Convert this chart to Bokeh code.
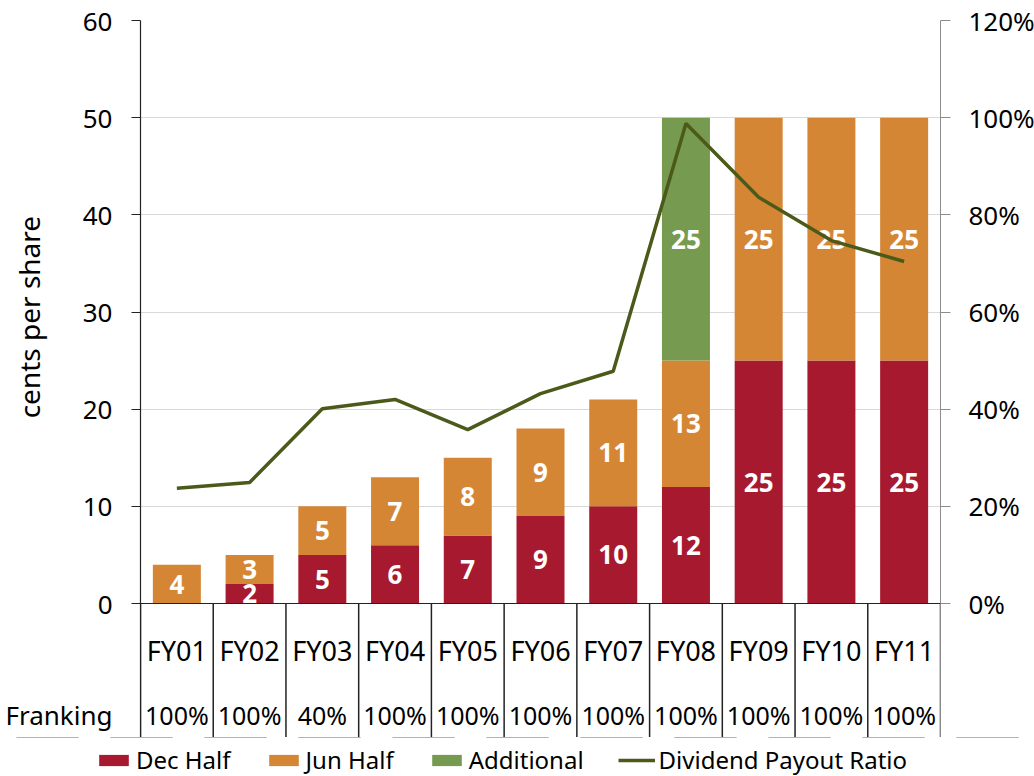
from bokeh.plotting import figure
from bokeh.layouts import column
from bokeh.models import (Range1d, LinearAxis, FixedTicker, PrintfTickFormatter,
                          ColumnDataSource, Legend, LegendItem, Span)
from bokeh.core.properties import value
from bokeh.embed import file_html
from bokeh.resources import INLINE

categories = ["FY01", "FY02", "FY03", "FY04", "FY05", "FY06", "FY07", "FY08", "FY09", "FY10", "FY11"]
franking = ["100%", "100%", "40%", "100%", "100%", "100%", "100%", "100%", "100%", "100%", "100%"]
dec_half = [0, 2, 5, 6, 7, 9, 10, 12, 25, 25, 25]
jun_half = [4, 3, 5, 7, 8, 9, 11, 13, 25, 25, 25]
additional = [0, 0, 0, 0, 0, 0, 0, 25, 0, 0, 0]
payout_ratio = [23.7, 24.9, 40.1, 42.0, 35.8, 43.2, 47.8, 98.8, 83.6, 74.7, 70.4]
cents_ticks = [0, 10, 20, 30, 40, 50, 60]
pct_ticks = [0, 20, 40, 60, 80, 100, 120]
series_names = ["Dec Half", "Jun Half", "Additional", "Dividend Payout Ratio"]

FONT = "Noto Sans"
C_DEC = "#A6192E"
C_JUN = "#D58635"
C_ADD = "#769B50"
C_LINE = "#4B5A1A"

# layout constants (in cents units below the zero line, for the table rows)
TABLE_BOTTOM = -13.79
FY_ROW = -4.84
FRANK_ROW = -11.5

n = len(categories)
xc = [i + 0.5 for i in range(n)]
bounds = list(range(n + 1))

src = ColumnDataSource(dict(x=xc, cat=categories, frank=franking,
                            dec=dec_half, jun=jun_half, add=additional,
                            ratio=payout_ratio,
                            fy_y=[FY_ROW] * n, fr_y=[FRANK_ROW] * n))

p = figure(frame_width=800, frame_height=717, x_range=Range1d(0, n),
           y_range=Range1d(TABLE_BOTTOM, cents_ticks[-1]),
           output_backend="svg", toolbar_location=None,
           x_axis_location=None,
           min_border_left=140, min_border_right=94,
           min_border_top=20, min_border_bottom=0)
p.frame_align = False
p.extra_y_ranges = {"pct": Range1d(TABLE_BOTTOM * pct_ticks[-1] / cents_ticks[-1], pct_ticks[-1])}
p.outline_line_color = None
p.background_fill_color = "white"
p.border_fill_color = "white"

# grid
p.xgrid.visible = False
p.ygrid.ticker = FixedTicker(ticks=cents_ticks[1:])
p.ygrid.grid_line_color = "#d9d9d9"
p.ygrid.grid_line_width = 1

# stacked bars
rs = p.vbar_stack(["dec", "jun", "add"], x="x", width=0.66, source=src,
                  color=[C_DEC, C_JUN, C_ADD], line_color=None)

# bar value labels (centered in each segment)
lx, ly, lt = [], [], []
for i in range(n):
    base = 0
    for v in (dec_half[i], jun_half[i], additional[i]):
        if v > 0:
            lx.append(xc[i])
            ly.append(base + v / 2)
            lt.append(str(v))
        base += v
p.text(x=lx, y=ly, text=lt, text_color="white", text_font=value(FONT),
       text_font_style="bold", text_font_size="26px",
       text_align="center", text_baseline="middle")

# zero line and table separators
p.add_layout(Span(location=0, dimension="width", line_color="#222222", line_width=1.2))
p.segment(x0=bounds, y0=[0] * len(bounds), x1=bounds, y1=[TABLE_BOTTOM] * len(bounds),
          line_color="#222222", line_width=1.5)

# table texts
p.text(x="x", y="fy_y", text="cat", source=src, text_font=value(FONT),
       text_font_size="27px", text_align="center", text_baseline="middle",
       text_color="black")
p.text(x="x", y="fr_y", text="frank", source=src, text_font=value(FONT),
       text_font_size="25px", text_align="center", text_baseline="middle",
       text_color="black")

# payout ratio line
r_line = p.line(x="x", y="ratio", source=src, y_range_name="pct",
                line_color=C_LINE, line_width=3.5)

# left axis: value ticks (minor ticks give the marks) + the "Franking" row label
ya = p.yaxis[0]
ya.ticker = FixedTicker(ticks=[FRANK_ROW] + cents_ticks, minor_ticks=cents_ticks)
ya.major_label_overrides = {FRANK_ROW: "Franking"}
ya.axis_label = "\u00a0" * 17 + "cents per share"
ya.axis_label_text_font = FONT
ya.axis_label_text_font_size = "28px"
ya.axis_label_text_font_style = "normal"
ya.axis_label_text_color = "black"
ya.axis_label_standoff = -46
ya.major_label_text_font = FONT
ya.major_label_text_font_size = "26px"
ya.major_label_text_color = "black"
ya.major_label_standoff = 19
ya.major_tick_out = 0
ya.major_tick_in = 0
ya.minor_tick_out = 9
ya.minor_tick_in = 0
ya.axis_line_color = "#222222"
ya.minor_tick_line_color = "#222222"
ya.axis_line_width = 1.2

# right axis
ra = LinearAxis(y_range_name="pct", ticker=FixedTicker(ticks=pct_ticks),
                formatter=PrintfTickFormatter(format="%d%%"))
ra.major_label_text_font = FONT
ra.major_label_text_font_size = "26px"
ra.major_label_text_color = "black"
ra.major_label_standoff = 18
ra.major_tick_out = 10
ra.major_tick_in = 0
ra.minor_tick_out = 0
ra.minor_tick_in = 0
ra.axis_line_color = "#8c8c8c"
ra.major_tick_line_color = "#8c8c8c"
p.add_layout(ra, "right")

# legend strip below the chart: same series and styles, plotted out of its view
lg = figure(width=1034, height=39, x_range=Range1d(0, n), y_range=Range1d(-2, -1),
            output_backend="svg", toolbar_location=None,
            x_axis_location=None, y_axis_location=None, min_border=0)
lg.frame_align = False
lg.outline_line_color = None
lg.grid.visible = False
lg.background_fill_color = "white"
lg.border_fill_color = "white"
gs = lg.vbar_stack(["dec", "jun", "add"], x="x", width=0.66, source=src,
                   color=[C_DEC, C_JUN, C_ADD], line_color=None)
g_line = lg.line(x="x", y="ratio", source=src, line_color=C_LINE, line_width=3.5)

legend = Legend(items=[LegendItem(label=series_names[0], renderers=[gs[0]], index=0),
                       LegendItem(label=series_names[1], renderers=[gs[1]], index=0),
                       LegendItem(label=series_names[2], renderers=[gs[2]], index=0),
                       LegendItem(label=series_names[3], renderers=[g_line], index=0)],
                orientation="horizontal", location=(95, 0))
legend.label_text_font = FONT
legend.label_text_font_size = "24px"
legend.label_text_color = "black"
legend.label_standoff = 4
legend.glyph_width = 37
legend.glyph_height = 14
legend.spacing = 34
legend.padding = 0
legend.margin = 0
legend.border_line_color = None
legend.background_fill_alpha = 0
lg.add_layout(legend, "center")

layout = column(p, lg, spacing=0)
open("out.html", "w").write(file_html(layout, INLINE))
